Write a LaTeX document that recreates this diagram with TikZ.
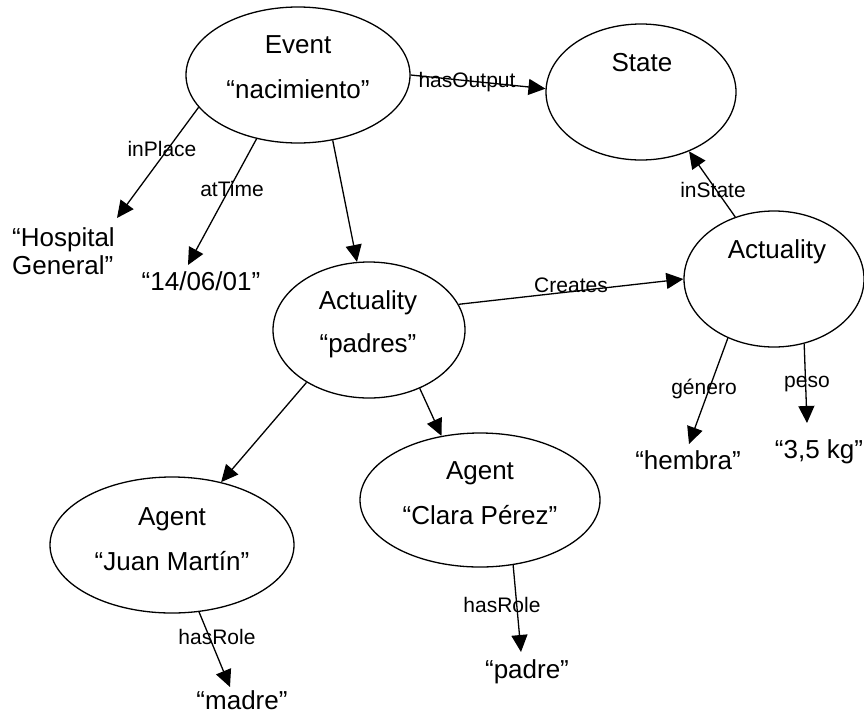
\documentclass[tikz,border=0pt]{standalone}
\usepackage{fontspec}
\setmainfont{Liberation Sans}
\usetikzlibrary{shapes.geometric,arrows.meta}

\tikzset{
  concept/.style 2 args={draw, ellipse, line width=1.3pt, inner sep=0pt,
    minimum width=#1, minimum height=#2},
  txt/.style={font=\fontsize{26}{30}\selectfont, inner sep=0pt, anchor=base},
  lbl/.style={font=\fontsize{21}{25}\selectfont, inner sep=0pt, anchor=base},
  rel/.style={line width=1.3pt, -{Triangle[length=17pt,width=16pt]}}
}

\begin{document}
\begin{tikzpicture}[x=1pt, y=-1pt]
\useasboundingbox (0,0) rectangle (864,713);

% concept ellipses
\node[concept={224pt}{136pt}] (event) at (298,75) {};
\node[concept={190pt}{136pt}] (state) at (641,92) {};
\node[concept={192pt}{136pt}] (padres) at (369,330) {};
\node[concept={180pt}{136pt}] (actual) at (774,279) {};
\node[concept={244pt}{136pt}] (juan) at (172,545) {};
\node[concept={240pt}{134pt}] (clara) at (480,500) {};

% texts inside the ellipses
\node[txt] (eventA) at (298,53) {Event};
\node[txt] (eventB) at (298,98) {“nacimiento”};
\node[txt] (stateA) at (642,71) {State};
\node[txt] (padresA) at (368,309) {Actuality};
\node[txt] (padresB) at (368,352) {“padres”};
\node[txt] (actualA) at (777,258) {Actuality};
\node[txt] (juanA) at (172,525) {Agent};
\node[txt] (juanB) at (172,570) {“Juan Martín”};
\node[txt] (claraA) at (480,479) {Agent};
\node[txt] (claraB) at (480,524) {“Clara Pérez”};

% literal values
\node[txt, anchor=base west] (hospA) at (12,246) {“Hospital};
\node[txt, anchor=base west] (hospB) at (12,274) {General”};
\node[txt] (fecha) at (201,290) {“14/06/01”};
\node[txt] (hembra) at (688,469) {“hembra”};
\node[txt] (peso) at (819,458) {“3,5 kg”};
\node[txt] (madre) at (242,709) {“madre”};
\node[txt] (padre) at (527,678) {“padre”};

% arrow tips above the literal values
\coordinate (hosptip) at (117,218);
\coordinate (fechatip) at (188,265);
\coordinate (hembratip) at (689,444);
\coordinate (pesotip) at (807,423);
\coordinate (madretip) at (230,687);
\coordinate (padretip) at (521,652);

% relations
\draw[rel] (event.0) -- (state.178.8);
\draw[rel] (event.198.8) -- (hosptip);
\draw[rel] (event.237.6) -- (fechatip);
\draw[rel] (event.298.3) -- (padres.100);
\draw[rel] (actual.122.6) -- (state.309.6);
\draw[rel] (padres.16.5) -- (actual.180);
\draw[rel] (actual.232.4) -- (hembratip);
\draw[rel] (actual.295.5) -- (pesotip);
\draw[rel] (padres.220.5) -- (juan.52.7);
\draw[rel] (padres.311.3) -- (clara.121.7);
\draw[rel] (juan.292.7) -- (madretip);
\draw[rel] (clara.297.6) -- (padretip);

% relation labels
\node[lbl] (lOutput) at (467,87) {hasOutput};
\node[lbl] (lPlace) at (162,156) {inPlace};
\node[lbl] (lTime) at (232,196) {atTime};
\node[lbl] (lState) at (713,197) {inState};
\node[lbl] (lCreates) at (571,292) {Creates};
\node[lbl] (lGenero) at (704,394) {género};
\node[lbl] (lPeso) at (807,387) {peso};
\node[lbl] (lRoleA) at (217,644) {hasRole};
\node[lbl] (lRoleB) at (502,612) {hasRole};
\end{tikzpicture}
\end{document}
